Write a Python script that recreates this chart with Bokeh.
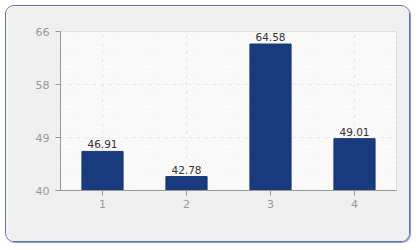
from bokeh.plotting import figure
from bokeh.models import FixedTicker, BoxAnnotation, ColumnDataSource
from bokeh.core.properties import value
from bokeh.embed import file_html
from bokeh.resources import INLINE

categories = [1, 2, 3, 4]
values = [46.91, 42.78, 64.58, 49.01]
labels = ["46.91", "42.78", "64.58", "49.01"]
y_min, y_max = 40.48, 66.64
tick_labels = ["40", "49", "58", "66"]

step = (y_max - y_min) / 3
ticks = [y_min + i * step for i in range(4)]

src = ColumnDataSource(dict(x=categories, top=values, lab=labels))

p = figure(width=405, height=237, output_backend="svg", toolbar_location=None,
           x_range=(0.5, 4.5), y_range=(y_min, y_max),
           min_border_left=54, min_border_right=15, min_border_top=25, min_border_bottom=53)
p.styles = {"margin": "5px 0 0 5px", "border-radius": "9px", "overflow": "hidden",
            "box-shadow": "1px 1px 1px #8a96c0", "border": "1px solid #6070a8"}
p.border_fill_color = "#f0f0f0"
p.background_fill_color = "white"
p.outline_line_color = "#dddddd"

p.add_layout(BoxAnnotation(fill_color="white", fill_alpha=0, line_alpha=0,
                           hatch_pattern="/", hatch_color="#f0f0f0", hatch_scale=5,
                           hatch_weight=1, level="underlay"))

p.vbar(x="x", top="top", bottom=y_min, width=0.49, source=src,
       fill_color="#1a3a7e", line_color="#1a3a7e")
p.text(x="x", y="top", text="lab", source=src, text_align="center",
       text_baseline="bottom", y_offset=-3, text_font=value("DejaVu Sans"),
       text_font_size="10.5px", text_color="#333333")

p.xaxis.ticker = FixedTicker(ticks=categories)
p.yaxis.ticker = FixedTicker(ticks=ticks)
p.yaxis.major_label_overrides = {t: l for t, l in zip(ticks, tick_labels)}
for ax in (p.xaxis[0], p.yaxis[0]):
    ax.axis_line_color = "#999999"
    ax.major_tick_line_color = "#999999"
    ax.major_tick_out = 5
    ax.major_tick_in = 0
    ax.minor_tick_line_color = None
    ax.major_label_text_color = "#999999"
    ax.major_label_text_font = "DejaVu Sans"
    ax.major_label_text_font_size = "11px"
p.yaxis.major_label_standoff = 6
p.xaxis.major_label_standoff = 4

p.xgrid.ticker = FixedTicker(ticks=categories)
p.ygrid.ticker = FixedTicker(ticks=ticks)
for g in (p.xgrid[0], p.ygrid[0]):
    g.grid_line_color = "#e4e4e4"
    g.grid_line_dash = "4 4"
    g.grid_line_width = 1

open("out.html", "w").write(file_html(p, INLINE))
